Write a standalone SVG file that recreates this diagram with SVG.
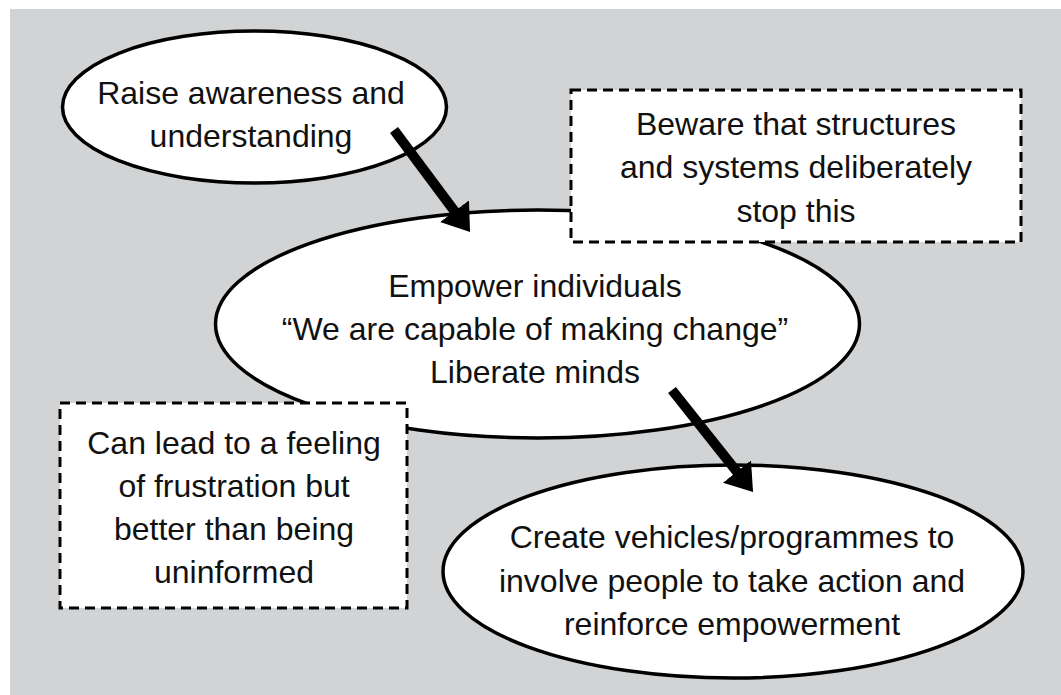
<svg xmlns="http://www.w3.org/2000/svg" width="1061" height="695" viewBox="0 0 1061 695">
<style>
.bg{fill:#d1d3d4}
.node{fill:#fff;stroke:#000;stroke-width:3.5}
.note{fill:#fff;stroke:#000;stroke-width:3;stroke-dasharray:10 6}
.lbl{font-family:"Liberation Sans",Arial,sans-serif;font-size:32px;fill:#111;text-anchor:middle}
.conn{stroke:#000;stroke-width:10;fill:none;marker-end:url(#head)}
</style>
<defs>
<marker id="head" markerUnits="userSpaceOnUse" viewBox="0 0 26 36" refX="6" refY="18" markerWidth="26" markerHeight="36" orient="auto">
<path d="M0,0 L26,18 L0,36 Z" fill="#000"/>
</marker>
</defs>
<rect class="bg" x="10" y="9" width="1051" height="686"/>
<g id="node-raise">
<ellipse class="node" cx="254.5" cy="107" rx="192" ry="76"/>
<text class="lbl" x="251" y="104">Raise awareness and</text>
<text class="lbl" x="251" y="147">understanding</text>
</g>
<g id="node-empower">
<ellipse class="node" cx="537.5" cy="324" rx="322" ry="114"/>
<text class="lbl" x="535" y="297">Empower individuals</text>
<text class="lbl" x="535" y="340">“We are capable of making change”</text>
<text class="lbl" x="535" y="383">Liberate minds</text>
</g>
<g id="node-create">
<ellipse class="node" cx="733" cy="571.5" rx="290" ry="106.5"/>
<text class="lbl" x="732" y="548">Create vehicles/programmes to</text>
<text class="lbl" x="732" y="592">involve people to take action and</text>
<text class="lbl" x="732" y="635">reinforce empowerment</text>
</g>
<g id="note-beware">
<rect class="note" x="571" y="90" width="450" height="152"/>
<text class="lbl" x="796" y="135">Beware that structures</text>
<text class="lbl" x="796" y="178">and systems deliberately</text>
<text class="lbl" x="796" y="222">stop this</text>
</g>
<g id="note-frustration">
<rect class="note" x="60" y="403" width="347" height="205"/>
<text class="lbl" x="234" y="454">Can lead to a feeling</text>
<text class="lbl" x="234" y="497">of frustration but</text>
<text class="lbl" x="234" y="540">better than being</text>
<text class="lbl" x="234" y="583">uninformed</text>
</g>
<g id="connectors">
<path class="conn" d="M394,130 L458.1,216"/>
<path class="conn" d="M672,390 L740.6,476.3"/>
</g>
</svg>
